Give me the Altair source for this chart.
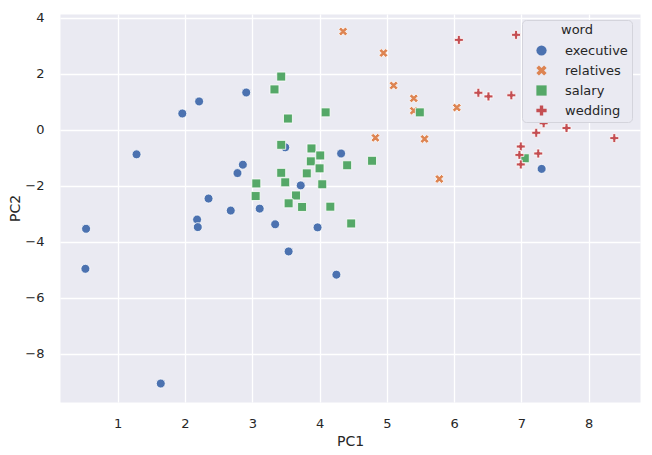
import altair as alt
import pandas as pd

words = ["executive", "relatives", "salary", "wedding"]
colors = ["#4C72B0", "#DD8452", "#55A868", "#C44E52"]

exec_pc1 = [2.91, 2.21, 1.96, 1.28, 3.49, 4.32, 2.86, 2.78, 3.72, 2.35, 2.68,
            3.11, 2.18, 2.19, 0.53, 3.34, 3.97, 3.54, 0.52, 4.25, 1.64, 7.30]
exec_pc2 = [1.33, 1.01, 0.58, -0.88, -0.63, -0.85, -1.25, -1.55, -1.99, -2.46, -2.89,
            -2.82, -3.21, -3.48, -3.54, -3.38, -3.49, -4.35, -4.97, -5.18, -9.07, -1.40]

rel_pc1 = [4.35, 4.95, 5.10, 5.40, 5.40, 6.04, 4.83, 5.56, 5.78]
rel_pc2 = [3.51, 2.74, 1.58, 1.12, 0.68, 0.79, -0.29, -0.33, -1.76]

sal_pc1 = [3.43, 3.33, 4.09, 3.53, 3.43, 3.88, 4.01, 3.87, 4.41, 4.00, 3.43, 3.81,
           3.49, 3.06, 4.04, 3.05, 3.65, 3.54, 3.74, 4.16, 5.49, 4.78, 7.05, 4.47]
sal_pc2 = [1.90, 1.44, 0.62, 0.40, -0.54, -0.67, -0.92, -1.13, -1.27, -1.38, -1.54, -1.56,
           -1.88, -1.92, -1.95, -2.37, -2.35, -2.63, -2.76, -2.75, 0.62, -1.11, -1.02, -3.35]

wed_pc1 = [6.92, 6.07, 6.36, 6.51, 6.85, 7.33, 7.67, 7.22, 8.38, 6.99, 7.25, 6.97, 6.99]
wed_pc2 = [3.39, 3.21, 1.32, 1.19, 1.23, 0.23, 0.06, -0.11, -0.30, -0.60, -0.85, -0.90, -1.24]

x_ticks = [1, 2, 3, 4, 5, 6, 7, 8]
y_ticks = [-8, -6, -4, -2, 0, 2, 4]

series = [
    ("executive", exec_pc1, exec_pc2),
    ("relatives", rel_pc1, rel_pc2),
    ("salary", sal_pc1, sal_pc2),
    ("wedding", wed_pc1, wed_pc2),
]
rows = []
for w, xs, ys in series:
    for a, b in zip(xs, ys):
        rows.append({"word": w, "PC1": a, "PC2": b})
df = pd.DataFrame(rows)

X_PATH = ("M -1,-0.5 L -0.5,-1 L 0,-0.5 L 0.5,-1 L 1,-0.5 L 0.5,0 L 1,0.5 "
          "L 0.5,1 L 0,0.5 L -0.5,1 L -1,0.5 L -0.5,0 Z")
P_PATH = ("M -0.33,-1 L 0.33,-1 L 0.33,-0.33 L 1,-0.33 L 1,0.33 L 0.33,0.33 L 0.33,1 "
          "L -0.33,1 L -0.33,0.33 L -1,0.33 L -1,-0.33 L -0.33,-0.33 Z")
shapes = ["circle", X_PATH, "square", P_PATH]

FONT = "DejaVu Sans"
TXT = "#262626"

legend = alt.Legend(
    title="word", orient="none", legendX=462, legendY=6,
    titleAnchor="middle", titleFontWeight="normal", titleFontSize=13,
    titleFont=FONT, titleColor=TXT, titlePadding=7,
    labelFont=FONT, labelFontSize=13, labelColor=TXT, labelOffset=17,
    symbolOffset=9, symbolSize=105, symbolStrokeWidth=0,
    rowPadding=6, padding=4,
    fillColor="#EAEAF2", strokeColor="#D4D4DC", cornerRadius=4,
)

chart = alt.Chart(df).mark_point(
    filled=True, opacity=1, size=80, stroke="white", strokeWidth=0.8
).encode(
    x=alt.X("PC1:Q",
            scale=alt.Scale(domain=[0.1425, 8.762], nice=False, zero=False),
            axis=alt.Axis(values=x_ticks, title="PC1", labelPadding=15,
                          titleY=43.7, titleBaseline="alphabetic")),
    y=alt.Y("PC2:Q",
            scale=alt.Scale(domain=[-9.73, 4.135], nice=False, zero=False),
            axis=alt.Axis(values=y_ticks, title="PC2", labelPadding=16,
                          titleX=-41, titleY=194, titleBaseline="alphabetic")),
    color=alt.Color("word:N", scale=alt.Scale(domain=words, range=colors), legend=legend),
    shape=alt.Shape("word:N", scale=alt.Scale(domain=words, range=shapes), legend=legend),
).properties(
    width=580, height=388,
    padding={"left": 60, "top": 14, "right": 12, "bottom": 53},
    autosize=alt.AutoSizeParams(type="none"),
    background="white",
).configure_view(
    fill="#EAEAF2", stroke="transparent"
).configure_axis(
    grid=True, gridColor="white", gridWidth=1.3, domain=False, ticks=False, tickSize=0,
    labelFont=FONT, labelFontSize=13, labelColor=TXT,
    titleFont=FONT, titleFontSize=14, titleFontWeight="normal", titleColor=TXT,
)

chart.save("out.html", embed_options={"renderer": "svg", "actions": False})
